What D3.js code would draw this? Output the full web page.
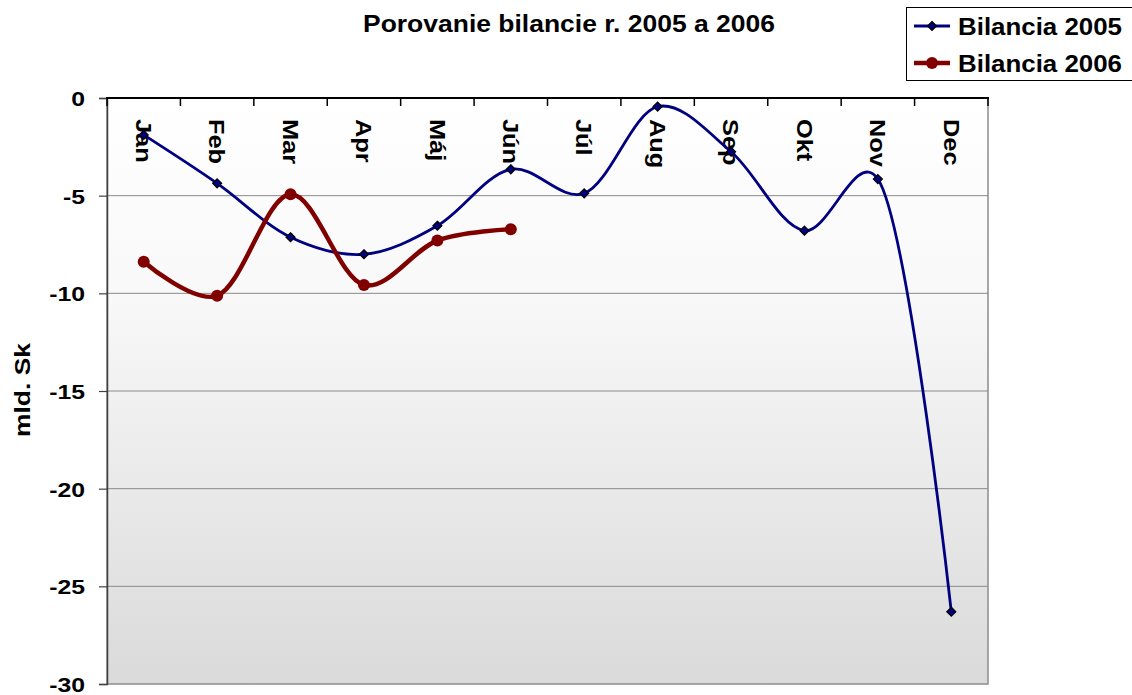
<!DOCTYPE html>
<html>
<head>
<meta charset="utf-8">
<script src="https://cdn.jsdelivr.net/npm/d3@7"></script>
<style>
  body { margin: 0; background: #fff; }
  text { font-family: "Liberation Sans", Arial, sans-serif; font-weight: bold; fill: #000; }
</style>
</head>
<body>
<div id="chart"></div>
<script>
// Data
const months = ['Jan', 'Feb', 'Mar', 'Apr', 'Máj', 'Jún', 'Júl', 'Aug', 'Sep', 'Okt', 'Nov', 'Dec'];
const bilancia2005 = [-1.89, -4.37, -7.13, -8.0, -6.54, -3.65, -4.88, -0.44, -2.75, -6.79, -4.15, -26.3];
const bilancia2006 = [-8.38, -10.12, -4.93, -9.57, -7.3, -6.72];
const yTicks = [0, -5, -10, -15, -20, -25, -30];

const width = 1132, height = 695;
const plot = {left: 107, right: 988, top: 98, bottom: 684};
const wide = 1.18; // glyphs in the reference are a bit wider than Liberation Sans

const svg = d3.select('#chart')
  .append('svg')
  .attr('width', width)
  .attr('height', height);

// background gradient of the plot area
const defs = svg.append('defs');
const grad = defs.append('linearGradient')
  .attr('id', 'bg')
  .attr('x1', 0).attr('y1', 0).attr('x2', 0).attr('y2', 1);
grad.append('stop').attr('offset', '0%').attr('stop-color', '#ffffff');
grad.append('stop').attr('offset', '35%').attr('stop-color', '#f8f8f8');
grad.append('stop').attr('offset', '100%').attr('stop-color', '#dadada');

const x = d3.scaleBand()
  .domain(months)
  .range([plot.left, plot.right])
  .padding(0);
const cx = d => x(d) + x.bandwidth() / 2;

const y = d3.scaleLinear()
  .domain([0, -30])
  .range([plot.top, plot.bottom]);

svg.append('rect')
  .attr('x', plot.left)
  .attr('y', plot.top)
  .attr('width', plot.right - plot.left)
  .attr('height', plot.bottom - plot.top)
  .attr('fill', 'url(#bg)')
  .attr('stroke', '#8c8c8c')
  .attr('stroke-width', 1.5);

// horizontal gridlines
svg.append('g')
  .selectAll('line')
  .data(yTicks.filter(t => t !== 0 && t !== -30))
  .join('line')
  .attr('x1', plot.left)
  .attr('x2', plot.right)
  .attr('y1', d => y(d))
  .attr('y2', d => y(d))
  .attr('stroke', '#8a8a8a')
  .attr('stroke-width', 1);

// y axis
const yAxis = d3.axisLeft(y)
  .tickValues(yTicks)
  .tickSize(8)
  .tickPadding(14)
  .tickFormat(d => String(d));
const gy = svg.append('g')
  .attr('transform', 'translate(' + plot.left + ',0)')
  .call(yAxis);
gy.select('.domain').attr('stroke', '#404040').attr('stroke-width', 1.5);
gy.selectAll('.tick line').attr('stroke', '#404040').attr('stroke-width', 1.2);
gy.selectAll('.tick text')
  .attr('x', null)
  .attr('transform', 'translate(-22,0) scale(1.18,1)')
  .attr('dy', '0.36em')
  .style('font-size', '21px');

// x axis along zero, ticks pointing into the plot at band edges
const gx = svg.append('g');
gx.append('line')
  .attr('x1', plot.left - 1)
  .attr('x2', plot.right + 1)
  .attr('y1', y(0))
  .attr('y2', y(0))
  .attr('stroke', '#000')
  .attr('stroke-width', 2.2);
gx.selectAll('line.tick')
  .data(months.concat(['end']))
  .join('line')
  .attr('class', 'tick')
  .attr('x1', (d, i) => plot.left + i * x.bandwidth())
  .attr('x2', (d, i) => plot.left + i * x.bandwidth())
  .attr('y1', y(0))
  .attr('y2', y(0) + 8)
  .attr('stroke', '#000')
  .attr('stroke-width', 1.5);
gx.selectAll('text')
  .data(months)
  .join('text')
  .attr('transform', d => 'translate(' + cx(d) + ',' + (plot.top + 21) + ') rotate(90) scale(' + wide + ',1)')
  .attr('dy', '0.36em')
  .style('font-size', '21.5px')
  .text(d => d);

// lines
const line = d3.line()
  .x(d => cx(d.m))
  .y(d => y(d.v))
  .curve(d3.curveCatmullRom.alpha(0.22));

const s2005 = bilancia2005.map((v, i) => ({m: months[i], v: v}));
const s2006 = bilancia2006.map((v, i) => ({m: months[i], v: v}));

svg.append('path')
  .datum(s2005)
  .attr('d', line)
  .attr('fill', 'none')
  .attr('stroke', '#000080')
  .attr('stroke-width', 2.8);

svg.append('path')
  .datum(s2006)
  .attr('d', line)
  .attr('fill', 'none')
  .attr('stroke', '#800000')
  .attr('stroke-width', 4.5);

const diamond = 'M0,-4.5L4.5,0L0,4.5L-4.5,0Z';
svg.append('g')
  .selectAll('path')
  .data(s2005)
  .join('path')
  .attr('transform', d => 'translate(' + cx(d.m) + ',' + y(d.v) + ')')
  .attr('d', diamond)
  .attr('fill', '#000080')
  .attr('stroke', '#000')
  .attr('stroke-width', 1.2);

svg.append('g')
  .selectAll('circle')
  .data(s2006)
  .join('circle')
  .attr('cx', d => cx(d.m))
  .attr('cy', d => y(d.v))
  .attr('r', 6)
  .attr('fill', '#800000');

// title
svg.append('text')
  .attr('x', 569)
  .attr('y', 32)
  .attr('text-anchor', 'middle')
  .attr('textLength', 412)
  .attr('lengthAdjust', 'spacingAndGlyphs')
  .style('font-size', '24px')
  .text('Porovanie bilancie r. 2005 a 2006');

// y axis title
svg.append('text')
  .attr('transform', 'translate(30,390) rotate(-90)')
  .attr('text-anchor', 'middle')
  .attr('textLength', 94)
  .attr('lengthAdjust', 'spacingAndGlyphs')
  .style('font-size', '22px')
  .text('mld. Sk');

// legend
const legend = svg.append('g');
legend.append('rect')
  .attr('x', 906.5)
  .attr('y', 7.5)
  .attr('width', 240)
  .attr('height', 73)
  .attr('fill', '#fff')
  .attr('stroke', '#000')
  .attr('stroke-width', 1);

const legendItems = [
  {name: 'Bilancia 2005', color: '#000080', w: 2.8, mark: 'diamond', y: 26},
  {name: 'Bilancia 2006', color: '#800000', w: 4.5, mark: 'circle', y: 63}
];
legendItems.forEach(it => {
  legend.append('line')
    .attr('x1', 914).attr('x2', 950)
    .attr('y1', it.y).attr('y2', it.y)
    .attr('stroke', it.color)
    .attr('stroke-width', it.w);
  if (it.mark === 'diamond') {
    legend.append('path')
      .attr('transform', 'translate(932,' + it.y + ')')
      .attr('d', diamond)
      .attr('fill', it.color)
      .attr('stroke', '#000')
      .attr('stroke-width', 1.2);
  } else {
    legend.append('circle')
      .attr('cx', 932).attr('cy', it.y).attr('r', 6)
      .attr('fill', it.color);
  }
  legend.append('text')
    .attr('x', 958)
    .attr('y', it.y)
    .attr('dy', '0.36em')
    .attr('textLength', 164)
    .attr('lengthAdjust', 'spacingAndGlyphs')
    .style('font-size', '24px')
    .text(it.name);
});
</script>
</body>
</html>
